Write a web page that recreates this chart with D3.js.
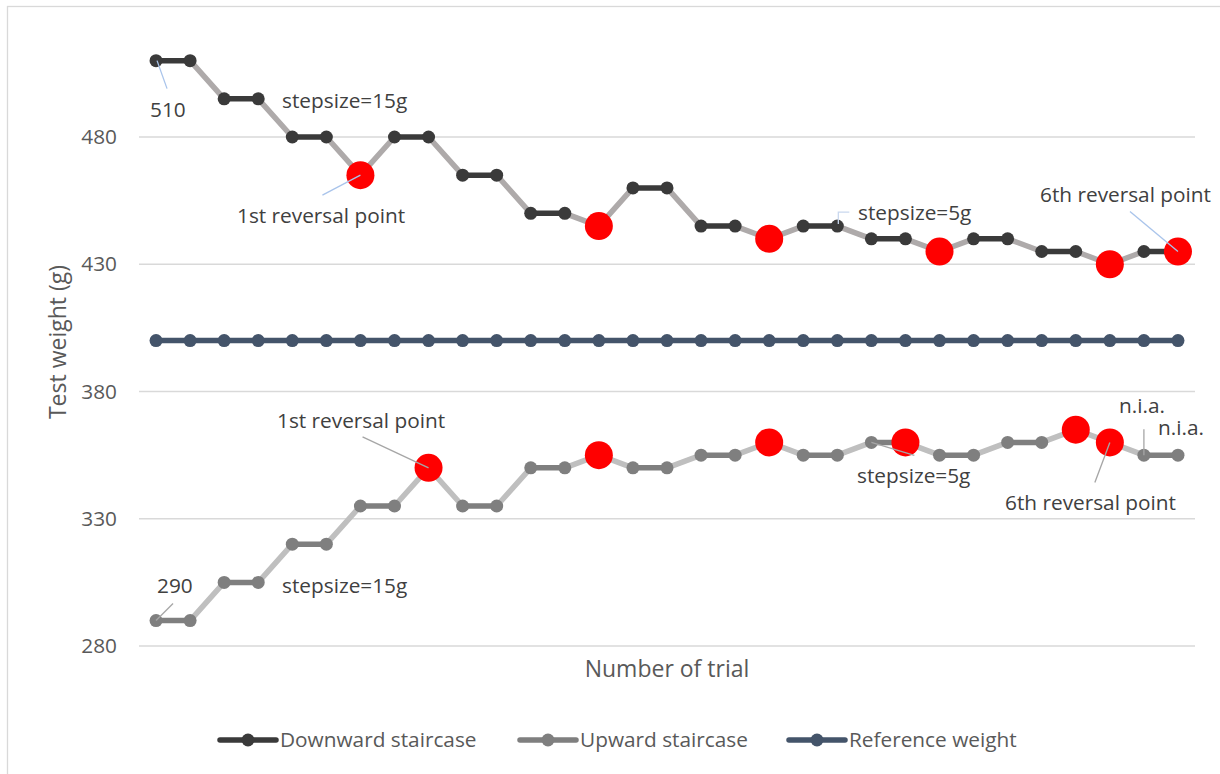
<!DOCTYPE html>
<html><head><meta charset="utf-8">
<script src="https://cdn.jsdelivr.net/npm/d3@7/dist/d3.min.js"></script>
<style>
body{margin:0;background:#fff;}
text{font-family:"Open Sans",sans-serif;fill:#595959;}
</style></head>
<body><svg id="c" width="1220" height="774"></svg>
<script>
const trials = d3.range(1, 32);
const downward = [510,510,495,495,480,480,465,480,480,465,465,450,450,445,460,460,445,445,440,445,445,440,440,435,440,440,435,435,430,435,435];
const upward   = [290,290,305,305,320,320,335,335,350,335,335,350,350,355,350,350,355,355,360,355,355,360,360,355,355,360,360,365,360,355,355];
const reference = trials.map(() => 400);
const downReversals = [7,14,19,24,29,31];
const upReversals = [9,14,19,23,28,29];
const yTicks = [280,330,380,430,480];
const seriesNames = ["Downward staircase","Upward staircase","Reference weight"];

// annotations: [text, x, baseline]
const annotations = [
  ["510",150,117],["stepsize=15g",282,108],["1st reversal point",237,223],
  ["stepsize=5g",858,220],["6th reversal point",1040,202],
  ["1st reversal point",277,428],["290",157,593],["stepsize=15g",282,593],
  ["stepsize=5g",857,483],["6th reversal point",1005,510],
  ["n.i.a.",1119,413],["n.i.a.",1158,435]
];
// leader lines anchored to data: [trial, value, dx, dy, color]
const leaders = [
  [1,510,11,28,"#a9c4eb"],[7,465,-38,20,"#a9c4eb"],[31,435,-48,-40,"#a9c4eb"],
  [9,350,-66,-31,"#a6a6a6"],[1,290,17,-17,"#a6a6a6"],[22,360,43,13,"#a6a6a6"],
  [29,360,-15,40,"#a6a6a6"],[30,355,0,-26,"#a6a6a6"]
];

const svg = d3.select("#c");
svg.append("rect").attr("x",7.5).attr("y",6.5).attr("width",1240).attr("height",790)
  .attr("fill","#fff").attr("stroke","#d9d9d9").attr("stroke-width",1.3);

const x = d3.scalePoint().domain(trials).range([139,1195]).padding(0.5);
const y = d3.scaleLinear().domain([280,480]).range([646,137]);

// grid
svg.append("g").selectAll("line").data(yTicks).join("line")
  .attr("x1",139).attr("x2",1195).attr("y1",d=>y(d)).attr("y2",d=>y(d))
  .attr("stroke","#d9d9d9").attr("stroke-width",1.3);

// y axis labels
const yAxis = d3.axisLeft(y).tickValues(yTicks).tickSize(0).tickPadding(22);
const ga = svg.append("g").attr("transform","translate(139,0)").call(yAxis);
ga.select(".domain").remove();
ga.selectAll("text").attr("font-size",20.8).attr("fill","#595959").style("font-family","Open Sans");

svg.append("text").attr("transform","translate(66,342) rotate(-90)").attr("text-anchor","middle")
  .attr("font-size",23).text("Test weight (g)");
svg.append("text").attr("x",667).attr("y",677).attr("text-anchor","middle").attr("font-size",23).text("Number of trial");

function drawSeries(vals, flatColor, slopeColor, markerColor, reversals){
  const g = svg.append("g");
  const segs = d3.range(vals.length-1).map(i=>({a:i,b:i+1}));
  g.selectAll("line").data(segs).join("line")
    .attr("x1",d=>x(trials[d.a])).attr("y1",d=>y(vals[d.a]))
    .attr("x2",d=>x(trials[d.b])).attr("y2",d=>y(vals[d.b]))
    .attr("stroke",d=>vals[d.a]===vals[d.b]?flatColor:slopeColor)
    .attr("stroke-width",5.5).attr("stroke-linecap","round");
  const pts = trials.map((t,i)=>({t,v:vals[i],r:reversals.includes(t)}));
  g.selectAll("circle.n").data(pts.filter(p=>!p.r)).join("circle").attr("class","n")
    .attr("cx",d=>x(d.t)).attr("cy",d=>y(d.v)).attr("r",6.5).attr("fill",markerColor);
  g.selectAll("circle.r").data(pts.filter(p=>p.r)).join("circle").attr("class","r")
    .attr("cx",d=>x(d.t)).attr("cy",d=>y(d.v)).attr("r",14).attr("fill","#ff0000");
}
drawSeries(reference,"#44546a","#44546a","#44546a",[]);
drawSeries(downward,"#3a3a3a","#aeaaaa","#3a3a3a",downReversals);
drawSeries(upward,"#7f7f7f","#bfbfbf","#7f7f7f",upReversals);

// small connector near stepsize=5g (top)
svg.append("path").attr("d",`M${x(21)+12},${y(445)-14}H${x(21)+1}V${y(445)-2}`)
  .attr("fill","none").attr("stroke","#c9d7ee").attr("stroke-width",1.3);
// leader lines
svg.append("g").selectAll("line").data(leaders).join("line")
  .attr("x1",d=>x(d[0])+(d[0]===1&&d[1]===510?1:0)).attr("y1",d=>y(d[1]))
  .attr("x2",d=>x(d[0])+d[2]).attr("y2",d=>y(d[1])+d[3])
  .attr("stroke",d=>d[4]).attr("stroke-width",1.3);

svg.append("g").selectAll("text").data(annotations).join("text")
  .attr("x",d=>d[1]).attr("y",d=>d[2]).attr("font-size",20.8).style("fill","#404040").text(d=>d[0]);

// legend
const legendColors = ["#3a3a3a","#7f7f7f","#44546a"];
const legendX = [220,520,789];
const lg = svg.append("g").selectAll("g").data(seriesNames).join("g")
  .attr("transform",(d,i)=>`translate(${legendX[i]},740)`);
lg.append("line").attr("x1",0).attr("x2",56).attr("stroke",(d,i)=>legendColors[i]).attr("stroke-width",5.5).attr("stroke-linecap","round");
lg.append("circle").attr("cx",28).attr("r",6.5).attr("fill",(d,i)=>legendColors[i]);
lg.append("text").attr("x",60).attr("y",7).attr("font-size",20.8).text(d=>d);
</script></body></html>
